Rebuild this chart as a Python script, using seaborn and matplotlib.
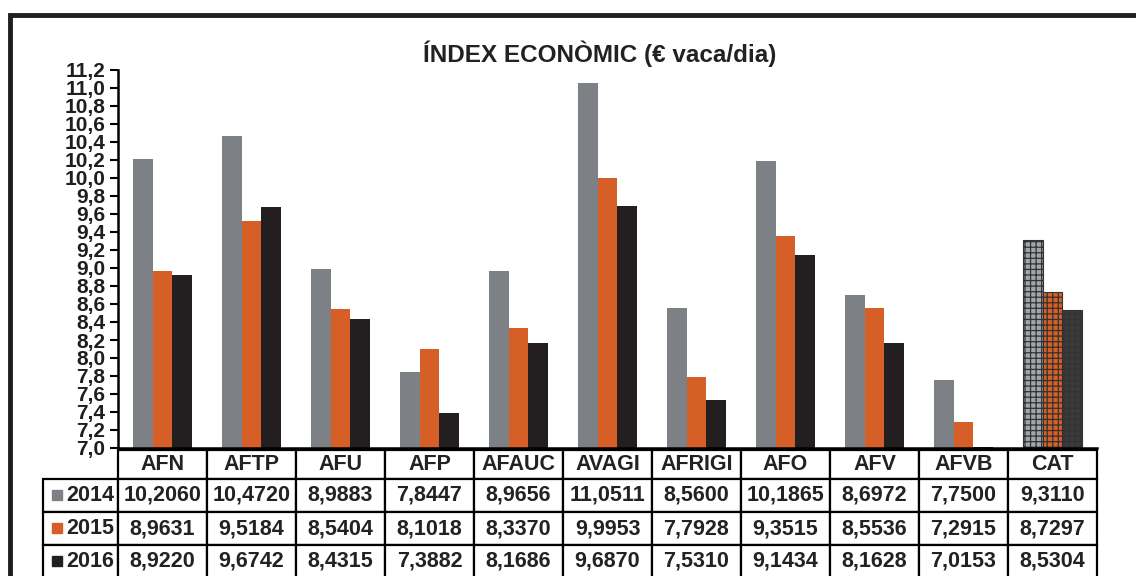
import numpy as np
import pandas as pd
import matplotlib
matplotlib.use('Agg')
import matplotlib.pyplot as plt
from matplotlib.patches import Rectangle
import seaborn as sns

cats = ['AFN', 'AFTP', 'AFU', 'AFP', 'AFAUC', 'AVAGI', 'AFRIGI', 'AFO', 'AFV', 'AFVB', 'CAT']
years = ['2014', '2015', '2016']
v2014 = [10.2060, 10.4720, 8.9883, 7.8447, 8.9656, 11.0511, 8.5600, 10.1865, 8.6972, 7.7500, 9.3110]
v2015 = [8.9631, 9.5184, 8.5404, 8.1018, 8.3370, 9.9953, 7.7928, 9.3515, 8.5536, 7.2915, 8.7297]
v2016 = [8.9220, 9.6742, 8.4315, 7.3882, 8.1686, 9.6870, 7.5310, 9.1434, 8.1628, 7.0153, 8.5304]
colors = ['#7d8185', '#d65f27', '#231f20']
title = 'ÍNDEX ECONÒMIC (€ vaca/dia)'

df = pd.DataFrame({
    'cat': cats * 3,
    'year': [y for y in years for _ in cats],
    'value': v2014 + v2015 + v2016,
})

sns.set_theme(style='white')
plt.rcParams['font.family'] = ['Liberation Sans', 'DejaVu Sans']
plt.rcParams['hatch.color'] = '#333333'
plt.rcParams['hatch.linewidth'] = 0.9

W, H = 1136, 576
fig = plt.figure(figsize=(W / 100, H / 100), dpi=100)
# axes box in pixels: x 118..1097, y 70..448
ax = fig.add_axes([118 / W, 1 - 448 / H, (1097 - 118) / W, (448 - 70) / H])

sns.barplot(data=df, x='cat', y='value', hue='year', palette=colors, width=0.66,
            saturation=1, linewidth=0, legend=False, ax=ax)

# grid hatch on the CAT bars (lighter fill so the grid shows)
cat_fill = ['#a3a6a8', '#d65f27', '#3c3a3b']
cat_bars = [b for b in ax.patches if abs(b.get_x() + b.get_width() / 2 - (len(cats) - 1)) < 0.5]
cat_bars.sort(key=lambda b: b.get_x())
for bar, fc in zip(cat_bars, cat_fill):
    bar.set_facecolor(fc)
    bar.set_hatch('+++')
    bar.set_edgecolor('#333333')
    bar.set_linewidth(0.8)

ax.set_ylim(7.0, 11.2)
ax.set_xlim(-0.5, len(cats) - 0.5)
yt = np.round(np.arange(7.0, 11.21, 0.2), 1)
ax.set_yticks(yt)
ax.set_yticklabels([f'{t:.1f}'.replace('.', ',') for t in yt], fontsize=15, fontweight='bold',
                   color='#1e1e1e')
ax.tick_params(axis='y', length=6, width=1.5, pad=3, color='black', left=True)
ax.tick_params(axis='x', length=0, labelbottom=False)
ax.set_xlabel('')
ax.set_ylabel('')
for s in ['top', 'right']:
    ax.spines[s].set_visible(False)
for s in ['left', 'bottom']:
    ax.spines[s].set_linewidth(1.8)
    ax.spines[s].set_color('black')

ax.set_title(title, fontsize=17.5, fontweight='bold', pad=6, color='#222222', x=0.492)

# data table under the bars
fmt = lambda v: f'{v:.4f}'.replace('.', ',')
cell_text = [[''] + cats]
for y, vals in zip(years, [v2014, v2015, v2016]):
    cell_text.append([y] + [fmt(v) for v in vals])

axw, axh = 1097 - 118, 448 - 70
lab_w = 75
col_w = [lab_w / axw] + [89 / axw] * len(cats)
tab_top, tab_bot = 450, 578
tbl = ax.table(cellText=cell_text, colWidths=col_w, cellLoc='center',
               bbox=[-lab_w / axw, (448 - tab_bot) / axh, (axw + lab_w) / axw, (tab_bot - tab_top) / axh])
tbl.auto_set_font_size(False)
row_h = [29, 33, 33, 33]
for (r, c), cell in tbl.get_celld().items():
    cell.set_height(row_h[r] / axh)
    cell.set_linewidth(1.6)
    cell.set_edgecolor('black')
    cell.get_text().set_fontweight('bold')
    cell.get_text().set_color('#222222')
    cell.get_text().set_fontsize(15.5)
    if r == 0 and c == 0:
        cell.visible_edges = 'open'
    if c == 0 and r > 0:
        cell.get_text().set_ha('right')
        cell.PAD = 0.05

# coloured squares in the row labels
row_mid = [495, 527.5, 560.5]
for ym, col in zip(row_mid, colors):
    ax.add_patch(Rectangle(((52 - 118) / axw, (448 - ym - 5) / axh), 10 / axw, 10 / axh,
                           transform=ax.transAxes, color=col, clip_on=False))

# thick outer frame, running off the right and bottom edges
fig.patches.append(Rectangle((10 / W, -0.1), 1.2, 1.1 - 15 / H, transform=fig.transFigure,
                             fill=False, lw=3.5, edgecolor='#1e1e1e'))

fig.savefig('out.png', dpi=100)
